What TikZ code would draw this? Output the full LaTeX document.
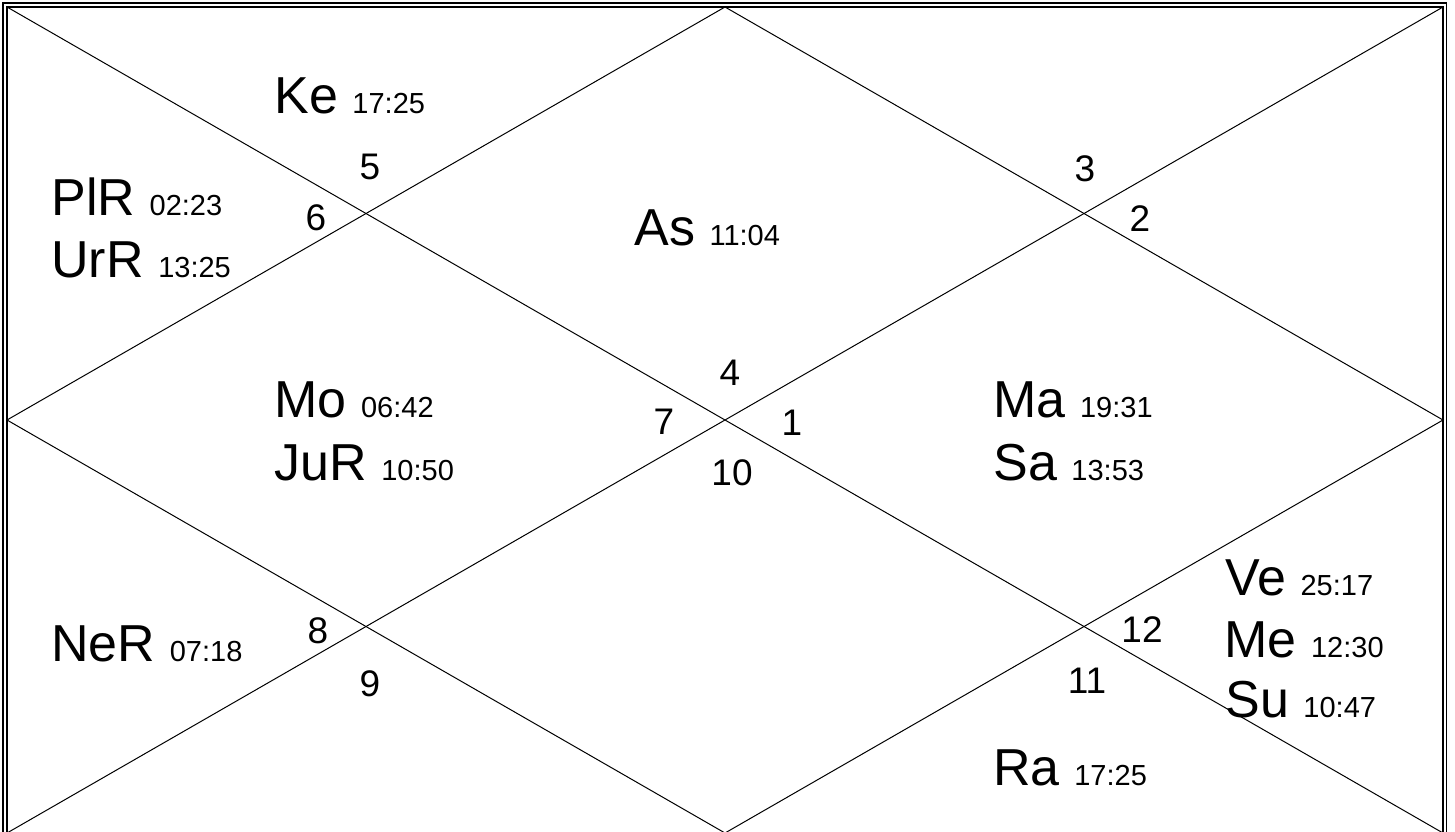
\documentclass[tikz,border=0pt]{standalone}
\usepackage{fontspec}
\setmainfont{Liberation Sans}
\newcommand{\smallt}[1]{{\fontsize{14.5}{15}\selectfont #1}}
\begin{document}
\begin{tikzpicture}[x=0.5pt,y=-0.5pt,
  planet/.style={anchor=base west,inner sep=0pt,font=\fontsize{26}{27}\selectfont},
  hnum/.style={inner sep=0pt,font=\fontsize{18.5}{19}\selectfont},
  frameline/.style={line width=0.6pt},
  chartline/.style={line width=0.5pt}]
\useasboundingbox (0,0) rectangle (1455,831);
\clip (0,0) rectangle (1455,831);
% frame
\draw[frameline] (3,3) rectangle (1446.5,840);
\draw[frameline] (7,7) rectangle (1443,833);
% chart points
\coordinate (tl) at (7,7);
\coordinate (tr) at (1443,7);
\coordinate (bl) at (7,833);
\coordinate (br) at (1443,833);
\coordinate (mt) at (725,7);
\coordinate (mb) at (725,833);
\coordinate (ml) at (7,420);
\coordinate (mr) at (1443,420);
% diagonals
\draw[chartline] (tl) -- (br);
\draw[chartline] (tr) -- (bl);
% diamond
\draw[chartline] (mt) -- (mr) -- (mb) -- (ml) -- cycle;
% house numbers
\node[hnum] (h1) at (792,423) {1};
\node[hnum] (h2) at (1140,219) {2};
\node[hnum] (h3) at (1085,169) {3};
\node[hnum] (h4) at (730,373) {4};
\node[hnum] (h5) at (370,167) {5};
\node[hnum] (h6) at (316,218) {6};
\node[hnum] (h7) at (664,422) {7};
\node[hnum] (h8) at (318,631) {8};
\node[hnum] (h9) at (370,684) {9};
\node[hnum] (h10) at (732,473) {10};
\node[hnum] (h11) at (1087,681) {11};
\node[hnum] (h12) at (1142,630) {12};
% planets
\node[planet] (ke) at (274,113) {Ke \smallt{17:25}};
\node[planet] (pl) at (51,215) {PlR \smallt{02:23}};
\node[planet] (ur) at (51,277) {UrR \smallt{13:25}};
\node[planet] (as) at (634,245) {As \smallt{11:04}};
\node[planet] (mo) at (274,417) {Mo \smallt{06:42}};
\node[planet] (ju) at (274,480) {JuR \smallt{10:50}};
\node[planet] (ma) at (993,417) {Ma \smallt{19:31}};
\node[planet] (sa) at (993,480) {Sa \smallt{13:53}};
\node[planet] (ne) at (51,661) {NeR \smallt{07:18}};
\node[planet] (ve) at (1225,595) {Ve \smallt{25:17}};
\node[planet] (me) at (1224,657) {Me \smallt{12:30}};
\node[planet] (su) at (1225,717) {Su \smallt{10:47}};
\node[planet] (ra) at (993,785) {Ra \smallt{17:25}};
\end{tikzpicture}
\end{document}
